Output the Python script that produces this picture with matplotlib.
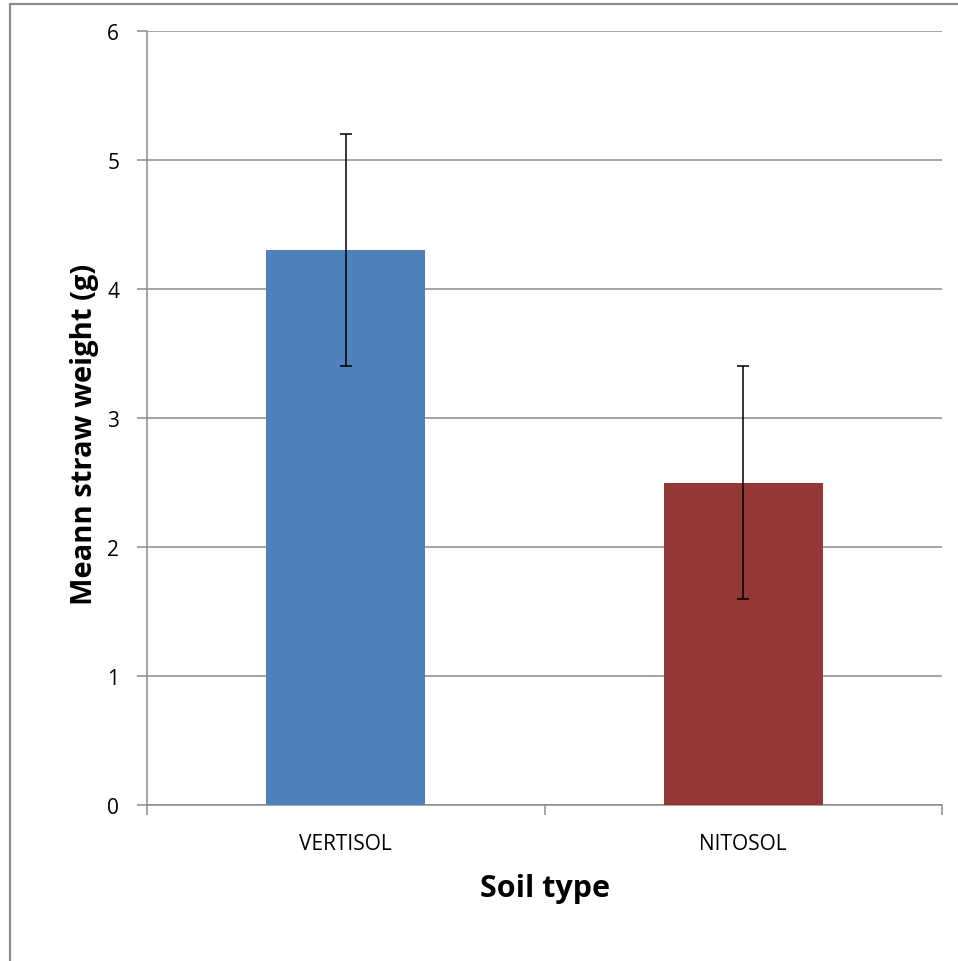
import matplotlib
matplotlib.use("Agg")
import matplotlib.pyplot as plt
from matplotlib.patches import Rectangle

# data
soils = ["VERTISOL", "NITOSOL"]
mean_weight = [4.3, 2.5]
err = [0.9, 0.9]
bar_colors = ["#4F81BD", "#953735"]

plt.rcParams['font.family'] = ['Open Sans', 'DejaVu Sans']

W, H = 958, 962
fig = plt.figure(figsize=(W / 100, H / 100), dpi=100)

# outer chart border (only left and top visible in the crop)
fig.patches.append(Rectangle((10 / W, -0.1), 1.2, 1 - 5 / H + 0.1,
                             transform=fig.transFigure, fill=False,
                             edgecolor="#8c8c8c", linewidth=1.6))

ax = fig.add_axes([147 / W, 1 - 806 / H, (942 - 147) / W, (806 - 32) / H])

x = [0, 1]
ax.bar(x, mean_weight, width=0.4, color=bar_colors, zorder=3)
ax.errorbar(x, mean_weight, yerr=err, fmt="none", ecolor="black",
            elinewidth=1.1, capsize=4.5, capthick=1.1, zorder=4)

ax.set_xlim(-0.5, 1.5)
ax.set_ylim(0, 6)
ax.set_yticks(range(0, 7))
ax.set_xticks(x)
ax.set_xticklabels(soils)
ax.set_xticks([-0.5, 0.5, 1.5], minor=True)

ax.grid(axis="y", color="#8c8c8c", linewidth=1.1, zorder=0)
for s in ["top", "right"]:
    ax.spines[s].set_visible(False)
for s in ["left", "bottom"]:
    ax.spines[s].set_color("#8c8c8c")
    ax.spines[s].set_linewidth(1.1)

ax.tick_params(axis="y", direction="out", length=7, width=1.1, color="#8c8c8c",
               labelsize=15, pad=13)
ax.tick_params(axis="x", which="major", length=0, labelsize=15, pad=20)
ax.tick_params(axis="x", which="minor", direction="out", length=7, width=1.1,
               color="#8c8c8c")

ax.set_xlabel("Soil type", fontsize=22, fontweight="bold", labelpad=14)
ax.set_ylabel("Meann straw weight (g)", fontsize=21, fontweight="bold")
ax.yaxis.set_label_coords(-0.06, 0.48)

fig.savefig("out.png", dpi=100)
